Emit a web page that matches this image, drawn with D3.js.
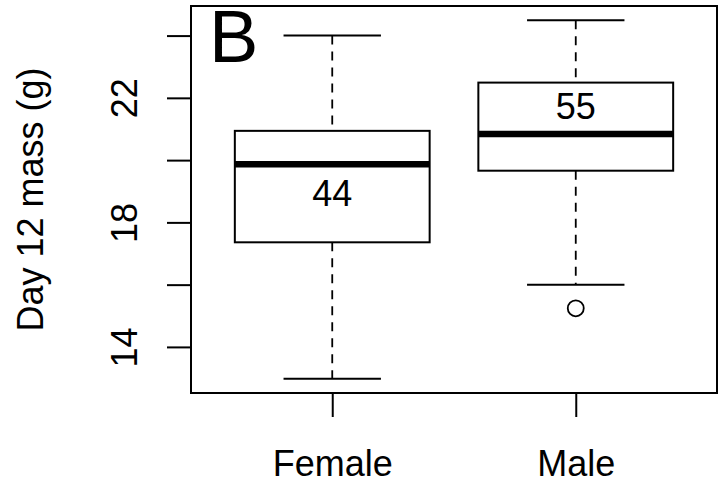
<!DOCTYPE html>
<html><head><meta charset="utf-8">
<script src="https://cdn.jsdelivr.net/npm/d3@7"></script>
<style>
html,body{margin:0;padding:0;background:#fff;}
text{font-family:"Liberation Sans",Arial,Helvetica,sans-serif;fill:#000;}
</style></head>
<body>
<script>
// Data
const categories = ["Female", "Male"];
const whiskerLow  = [12.98, 16.0];
const boxLow      = [17.36, 19.66];
const medians     = [19.87, 20.84];
const boxHigh     = [20.94, 22.49];
const whiskerHigh = [24.0, 24.49];
const outliers    = [[], [15.24]];
const counts      = ["44", "55"];
const countY      = [18.93, 21.74];
const yTicks      = [14, 16, 18, 20, 22, 24];
const yTickLabels = ["14", "", "18", "", "22", ""];
const yTitle = "Day 12 mass (g)";
const panelLabel = "B";

const W = 718, H = 487;
const mLeft = 191, mRight = 717, mTop = 6, mBottom = 393;

const svg = d3.select("body").append("svg").attr("width", W).attr("height", H);

const allVals = whiskerLow.concat(whiskerHigh, outliers.flat());
const lo = d3.min(allVals), hi = d3.max(allVals), pad = (hi - lo) * 0.04;
const y = d3.scaleLinear().domain([lo - pad, hi + pad]).range([mBottom, mTop]);
const x = d3.scaleLinear().domain([0.42, 2.58]).range([mLeft, mRight]);
const idx = categories.map((c, i) => i + 1);
const boxW = x(1.4) - x(1);
const capW = x(1.2) - x(1);

const g = svg.append("g");

categories.forEach((c, i) => {
  const cx = x(idx[i]);
  g.append("line").attr("x1", cx).attr("x2", cx)
    .attr("y1", y(whiskerHigh[i])).attr("y2", y(boxHigh[i]))
    .attr("stroke", "#000").attr("stroke-width", 1.8).attr("stroke-dasharray", "9,7");
  g.append("line").attr("x1", cx).attr("x2", cx)
    .attr("y1", y(boxLow[i])).attr("y2", y(whiskerLow[i]))
    .attr("stroke", "#000").attr("stroke-width", 1.8).attr("stroke-dasharray", "9,7");
  [whiskerHigh[i], whiskerLow[i]].forEach(v => {
    g.append("line").attr("x1", cx - capW).attr("x2", cx + capW)
      .attr("y1", y(v)).attr("y2", y(v))
      .attr("stroke", "#000").attr("stroke-width", 2);
  });
  g.append("rect").attr("x", cx - boxW).attr("width", 2 * boxW)
    .attr("y", y(boxHigh[i])).attr("height", y(boxLow[i]) - y(boxHigh[i]))
    .attr("fill", "#fff").attr("stroke", "#000").attr("stroke-width", 2);
  g.append("line").attr("x1", cx - boxW).attr("x2", cx + boxW)
    .attr("y1", y(medians[i])).attr("y2", y(medians[i]))
    .attr("stroke", "#000").attr("stroke-width", 6.5);
  outliers[i].forEach(v => {
    g.append("circle").attr("cx", cx).attr("cy", y(v)).attr("r", 8)
      .attr("fill", "none").attr("stroke", "#000").attr("stroke-width", 1.8);
  });
  g.append("text").attr("x", cx).attr("y", y(countY[i])).attr("dy", "0.36em")
    .attr("text-anchor", "middle").attr("font-size", 36).text(counts[i]);
});

svg.append("rect").attr("x", mLeft).attr("y", mTop)
  .attr("width", mRight - mLeft).attr("height", mBottom - mTop)
  .attr("fill", "none").attr("stroke", "#000").attr("stroke-width", 2);

const yAxis = d3.axisLeft(y).tickValues(yTicks).tickSize(24).tickPadding(30)
  .tickFormat((d, i) => yTickLabels[i]);
const ya = svg.append("g").attr("transform", `translate(${mLeft},0)`).call(yAxis);
ya.select(".domain").remove();
ya.selectAll(".tick line").attr("stroke", "#000").attr("stroke-width", 2);
ya.selectAll(".tick text")
  .attr("font-size", 36).attr("fill", "#000")
  .attr("text-anchor", "middle").attr("dy", null)
  .attr("x", null)
  .attr("transform", `translate(${137 - mLeft},0) rotate(-90)`)
  .attr("y", 0);

const xAxis = d3.axisBottom(x).tickValues(idx).tickSize(24).tickPadding(36)
  .tickFormat((d, i) => categories[i]);
const xa = svg.append("g").attr("transform", `translate(0,${mBottom})`).call(xAxis);
xa.select(".domain").remove();
xa.selectAll(".tick line").attr("stroke", "#000").attr("stroke-width", 2);
xa.selectAll(".tick text").attr("font-size", 36).attr("fill", "#000")
  .attr("dy", null).attr("y", 83);

svg.append("text").attr("transform", `translate(43,${(mTop + mBottom) / 2}) rotate(-90)`)
  .attr("text-anchor", "middle").attr("font-size", 36).text(yTitle);

svg.append("text").attr("x", 209).attr("y", 62).attr("font-size", 74).text(panelLabel);
</script>
</body></html>
